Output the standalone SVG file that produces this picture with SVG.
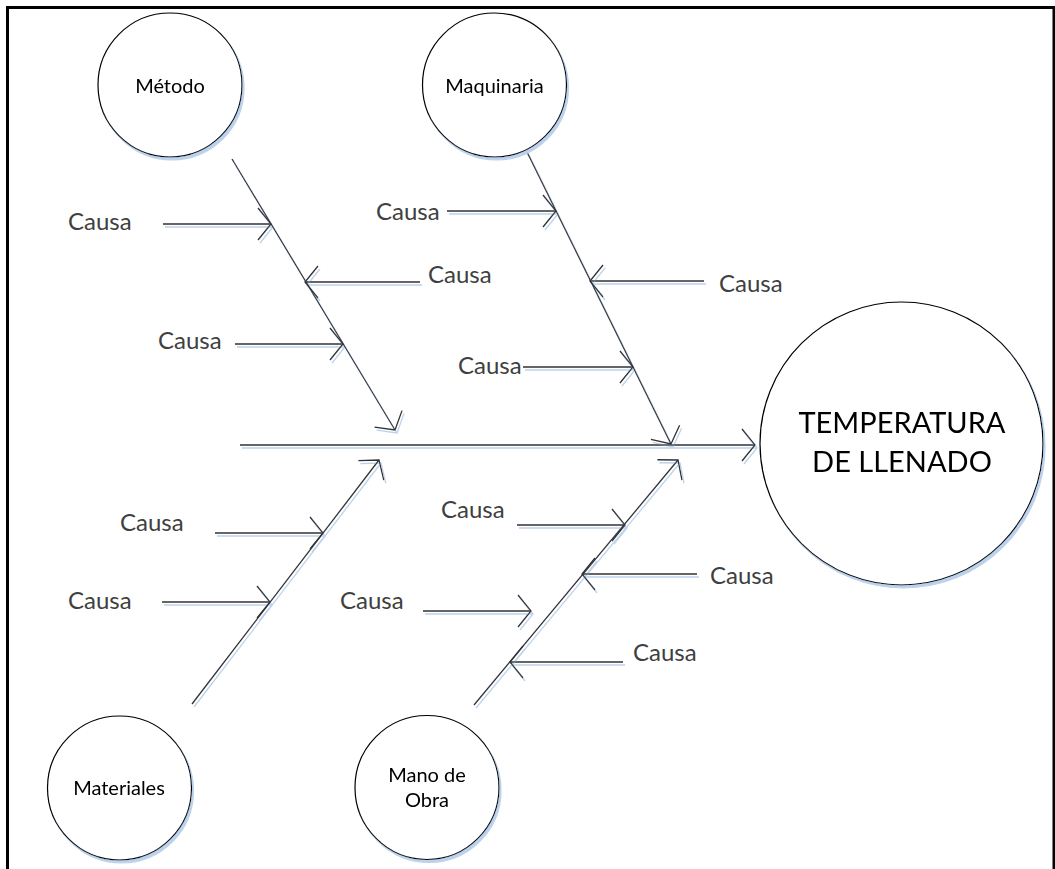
<svg xmlns="http://www.w3.org/2000/svg" width="1055" height="869" viewBox="0 0 1055 869">
<style>
.node{fill:#fff;stroke:#000;stroke-width:1.2}
.lbl{font-family:Lato,"Liberation Sans",sans-serif;font-size:20px;fill:#000;text-anchor:middle}
.big{font-family:Lato,"Liberation Sans",sans-serif;font-size:29px;fill:#000;text-anchor:middle}
.cause{font-family:Lato,"Liberation Sans",sans-serif;font-size:24px;fill:#404040}
.ln{fill:none;stroke:#333;stroke-width:1.3;marker-end:url(#arr)}
</style>
<defs>
<marker id="arr" markerUnits="userSpaceOnUse" markerWidth="30" markerHeight="40" viewBox="-16 -20 20 40" refX="0" refY="0" orient="auto" overflow="visible">
<path d="M-13,-16 L0,0 L-13,16" fill="none" stroke="#333" stroke-width="1.3"/>
</marker>
<filter id="sh" x="-10%" y="-10%" width="125%" height="125%">
<feOffset in="SourceAlpha" dx="1.5" dy="2.5" result="o"/>
<feFlood flood-color="#bcd2ec"/>
<feComposite in2="o" operator="in" result="s"/>
<feMerge><feMergeNode in="s"/><feMergeNode in="SourceGraphic"/></feMerge>
</filter>
</defs>
<rect width="1055" height="869" fill="#fff"/>
<path d="M7.5,869 V7.5 H1054 V869" fill="none" stroke="#000" stroke-width="3"/>

<g id="connectors" filter="url(#sh)">
<line class="ln" x1="240" y1="445" x2="755" y2="445"/>
<line class="ln" x1="232" y1="159" x2="395" y2="430"/>
<line class="ln" x1="163" y1="224" x2="271" y2="224"/>
<line class="ln" x1="420" y1="282" x2="305" y2="282"/>
<line class="ln" x1="235" y1="344" x2="343" y2="344"/>
<line class="ln" x1="527" y1="152" x2="671" y2="444"/>
<line class="ln" x1="447" y1="211" x2="556" y2="211"/>
<line class="ln" x1="704" y1="281" x2="590" y2="281"/>
<line class="ln" x1="523" y1="367" x2="633" y2="367"/>
<line class="ln" x1="192" y1="704" x2="379" y2="460"/>
<line class="ln" x1="215" y1="533" x2="323" y2="533"/>
<line class="ln" x1="162" y1="602" x2="270" y2="602"/>
<line class="ln" x1="474" y1="705" x2="678" y2="460"/>
<line class="ln" x1="517" y1="525" x2="625" y2="525"/>
<line class="ln" x1="697" y1="574" x2="582" y2="574"/>
<line class="ln" x1="423" y1="611" x2="531" y2="611"/>
<line class="ln" x1="623" y1="662" x2="510" y2="662"/>
</g>

<g id="causes">
<text class="cause" x="68" y="230">Causa</text>
<text class="cause" x="428" y="283">Causa</text>
<text class="cause" x="158" y="349">Causa</text>
<text class="cause" x="376" y="220">Causa</text>
<text class="cause" x="719" y="292">Causa</text>
<text class="cause" x="458" y="374">Causa</text>
<text class="cause" x="120" y="531">Causa</text>
<text class="cause" x="68" y="609">Causa</text>
<text class="cause" x="441" y="518">Causa</text>
<text class="cause" x="710" y="584">Causa</text>
<text class="cause" x="340" y="609">Causa</text>
<text class="cause" x="633" y="661">Causa</text>
</g>

<g id="metodo" filter="url(#sh)">
<circle class="node" cx="170" cy="85" r="72"/>
<text class="lbl" x="170" y="93">Método</text>
</g>
<g id="maquinaria" filter="url(#sh)">
<circle class="node" cx="494.5" cy="85" r="72"/>
<text class="lbl" x="494.5" y="93">Maquinaria</text>
</g>
<g id="materiales" filter="url(#sh)">
<circle class="node" cx="119.5" cy="788" r="72"/>
<text class="lbl" x="119" y="795">Materiales</text>
</g>
<g id="mano-de-obra" filter="url(#sh)">
<circle class="node" cx="427" cy="787.5" r="72"/>
<text class="lbl" x="427" y="782">Mano de</text>
<text class="lbl" x="427" y="807">Obra</text>
</g>
<g id="temperatura" filter="url(#sh)">
<circle class="node" cx="901.5" cy="443.5" r="141.5"/>
<text class="big" x="902" y="433">TEMPERATURA</text>
<text class="big" x="902" y="472">DE LLENADO</text>
</g>
</svg>
